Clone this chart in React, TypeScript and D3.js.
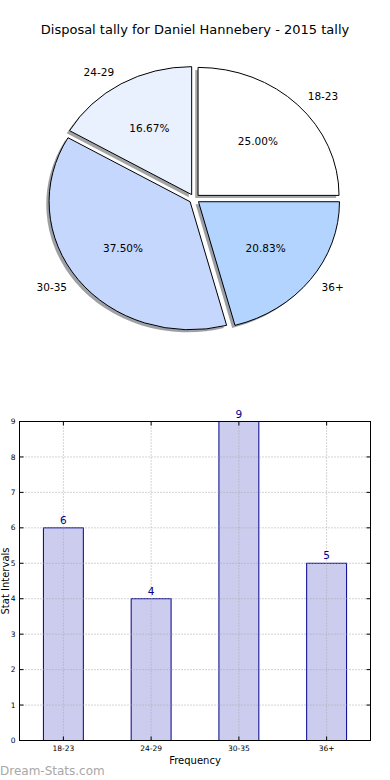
import React from 'react'
import * as d3 from 'd3'

// pie order, clockwise from 12 o'clock (as drawn)
const pieLabels = ['18-23', '36+', '30-35', '24-29']
const pieValues = [6, 5, 9, 4]
const pieColors = ['#ffffff', '#b3d4fe', '#c6d7fd', '#e9f0fe']

// bar chart
const categories = ['18-23', '24-29', '30-35', '36+']
const counts = [6, 4, 9, 5]
const yTicks = [0, 1, 2, 3, 4, 5, 6, 7, 8, 9]

const W = 390
const H = 780
const FONT = 'DejaVu Sans, sans-serif'

const Pie = () => {
    const cx = 194.3, cy = 198.8, rx = 141, ry = 128
    const explode = 0.0375
    const pie = d3.pie<number>().sort(null).value(d => d)
    const arcs = pie(pieValues)
    const arc = d3.arc<d3.PieArcDatum<number>>().innerRadius(0).outerRadius(1)
    const total = d3.sum(pieValues)
    const toPx = (u: number, v: number) => [cx + u * rx, cy + v * ry]
    return (
        <g>
            {arcs.map((a, i) => {
                const mid = (a.startAngle + a.endAngle) / 2
                const dx = Math.sin(mid) * explode
                const dy = -Math.cos(mid) * explode
                const c = d3.rgb(pieColors[i])
                const shadow = d3.rgb(c.r * 0.3, c.g * 0.3, c.b * 0.3).toString()
                return (
                    <path
                        key={'s' + i}
                        d={arc(a) || ''}
                        transform={`translate(${cx},${cy}) scale(${rx},${ry}) translate(${dx - 0.02},${dy + 0.02})`}
                        fill={shadow}
                        fillOpacity={0.5}
                        stroke="none"
                    />
                )
            })}
            {arcs.map((a, i) => {
                const mid = (a.startAngle + a.endAngle) / 2
                const dx = Math.sin(mid) * explode
                const dy = -Math.cos(mid) * explode
                return (
                    <path
                        key={'w' + i}
                        d={arc(a) || ''}
                        transform={`translate(${cx},${cy}) scale(${rx},${ry}) translate(${dx},${dy})`}
                        fill={pieColors[i]}
                        stroke="#000"
                        strokeWidth={1}
                        vectorEffect="non-scaling-stroke"
                    />
                )
            })}
            {arcs.map((a, i) => {
                const mid = (a.startAngle + a.endAngle) / 2
                const s = Math.sin(mid), c = Math.cos(mid)
                const [lx, ly] = toPx(s * (1.1 + explode), -c * (1.1 + explode))
                const [px, py] = toPx(s * (0.6 + explode), -c * (0.6 + explode))
                return (
                    <g key={'t' + i} fontFamily={FONT} fontSize={10.5} fill="#000">
                        <text x={lx} y={ly} dy="0.35em" textAnchor={s > 0 ? 'start' : 'end'}>
                            {pieLabels[i]}
                        </text>
                        <text x={px} y={py} dy="0.35em" textAnchor="middle">
                            {((pieValues[i] / total) * 100).toFixed(2)}%
                        </text>
                    </g>
                )
            })}
        </g>
    )
}

const Bars = () => {
    const left = 19.5, right = 370.5, top = 421.5, bottom = 740.5
    const x = d3.scaleBand().domain(categories).range([left, right]).paddingInner(0.545).paddingOuter(0.2725)
    const y = d3.scaleLinear().domain([0, 9]).range([bottom, top])
    const grid = '#a8a8a8'
    return (
        <g fontFamily={FONT}>
            {categories.map((c, i) => (
                <rect
                    key={c}
                    x={x(c)}
                    y={y(counts[i])}
                    width={x.bandwidth()}
                    height={y(0) - y(counts[i])}
                    fill="#ccccee"
                    stroke="#00008b"
                    strokeWidth={1}
                />
            ))}
            {yTicks.map(t => (
                <line key={'gy' + t} x1={left} x2={right} y1={y(t)} y2={y(t)} stroke={grid} strokeDasharray="1,2" />
            ))}
            {categories.map(c => {
                const m = (x(c) || 0) + x.bandwidth() / 2
                return <line key={'gx' + c} x1={m} x2={m} y1={top} y2={bottom} stroke={grid} strokeDasharray="1,2" />
            })}
            <rect x={left} y={top} width={right - left} height={bottom - top} fill="none" stroke="#000" strokeWidth={1} />
            {yTicks.map(t => (
                <g key={'ty' + t}>
                    <line x1={left} x2={left + 4} y1={y(t)} y2={y(t)} stroke="#000" />
                    <line x1={right - 4} x2={right} y1={y(t)} y2={y(t)} stroke="#000" />
                    <text x={left - 4} y={y(t)} dy="0.35em" textAnchor="end" fontSize={7.5} fill="#000">{t}</text>
                </g>
            ))}
            {categories.map((c, i) => {
                const m = (x(c) || 0) + x.bandwidth() / 2
                return (
                    <g key={'tx' + c}>
                        <line x1={m} x2={m} y1={bottom} y2={bottom - 4} stroke="#000" />
                        <line x1={m} x2={m} y1={top} y2={top + 4} stroke="#000" />
                        <text x={m} y={bottom + 10} textAnchor="middle" fontSize={7.5} fill="#000">{c}</text>
                        <text x={m} y={y(counts[i]) - 4} textAnchor="middle" fontSize={10.5} fill="#00008b">{counts[i]}</text>
                    </g>
                )
            })}
            <text x={(left + right) / 2} y={764} textAnchor="middle" fontSize={10} fill="#000">Frequency</text>
            <text transform={`translate(9,${(top + bottom) / 2}) rotate(-90)`} textAnchor="middle" fontSize={10} fill="#000">
                Stat Intervals
            </text>
        </g>
    )
}

const App = () => (
    <svg width={W} height={H} style={{ position: 'absolute', left: 0, top: 0, background: '#fff' }}>
        <rect width={W} height={H} fill="#fff" />
        <text x={195} y={34} textAnchor="middle" fontFamily={FONT} fontSize={13} fill="#000">
            Disposal tally for Daniel Hannebery - 2015 tally
        </text>
        <Pie />
        <Bars />
        <text x={0} y={775} fontFamily={FONT} fontSize={12} fill="#a8a8a8">Dream-Stats.com</text>
    </svg>
)

export default App
